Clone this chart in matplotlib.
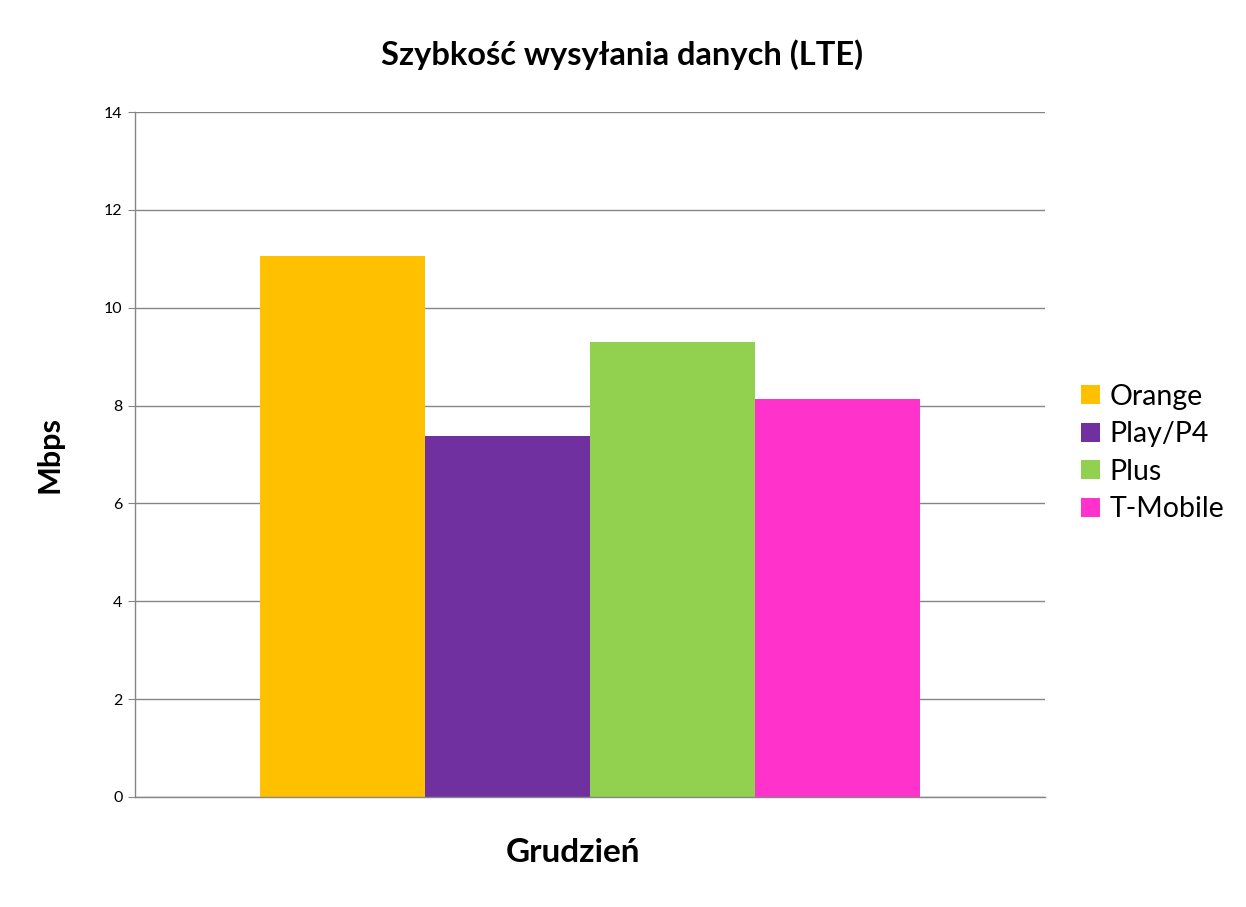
import numpy as np
import matplotlib
matplotlib.use("Agg")
import matplotlib.pyplot as plt

plt.rcParams['font.family'] = ['Lato', 'DejaVu Sans']

operators = ['Orange', 'Play/P4', 'Plus', 'T-Mobile']
speeds = [11.06, 7.37, 9.29, 8.14]
colors = ['#FFC000', '#7030A0', '#92D050', '#FF33CC']
month = 'Grudzień'
yticks = [0, 2, 4, 6, 8, 10, 12, 14]

W, H = 1246, 907
fig = plt.figure(figsize=(W / 100, H / 100), dpi=100)
ax = fig.add_axes([0.1083, 0.1213, 0.7303, 0.7552])

w = 0.1813
offsets = (np.arange(len(operators)) - 1.5) * w
for off, val, c, name in zip(offsets, speeds, colors, operators):
    ax.bar(off, val, width=w, color=c, label=name, zorder=2)

ax.set_xlim(-0.5, 0.5)
ax.set_ylim(0, 14)
ax.set_yticks(yticks)
ax.set_xticks([])
ax.yaxis.grid(True, color='#868686', linewidth=1.0, zorder=0)
ax.set_axisbelow(True)
for s in ['top', 'right']:
    ax.spines[s].set_visible(False)
for s in ['left', 'bottom']:
    ax.spines[s].set_color('#868686')
    ax.spines[s].set_linewidth(1.0)
ax.tick_params(axis='y', length=5, color='#868686', labelsize=11.5, pad=4)

# titles placed by pixel position
fig.text(622 / W, 1 - 55 / H, 'Szybkość wysyłania danych (LTE)', fontsize=23.5,
         fontweight='bold', ha='center', va='center')
fig.text(50 / W, 1 - 455 / H, 'Mbps', fontsize=22, fontweight='bold',
         rotation=90, ha='center', va='center')
fig.text(573 / W, 1 - 852 / H, month, fontsize=24, fontweight='bold',
         ha='center', va='center')

fig.legend(loc='center left', bbox_to_anchor=(1070 / W, 1 - 453 / H),
           frameon=False, fontsize=20.5, handlelength=0.65, handleheight=0.65,
           handletextpad=0.35, labelspacing=0.4, borderaxespad=0)

fig.savefig('out.png', dpi=100)
